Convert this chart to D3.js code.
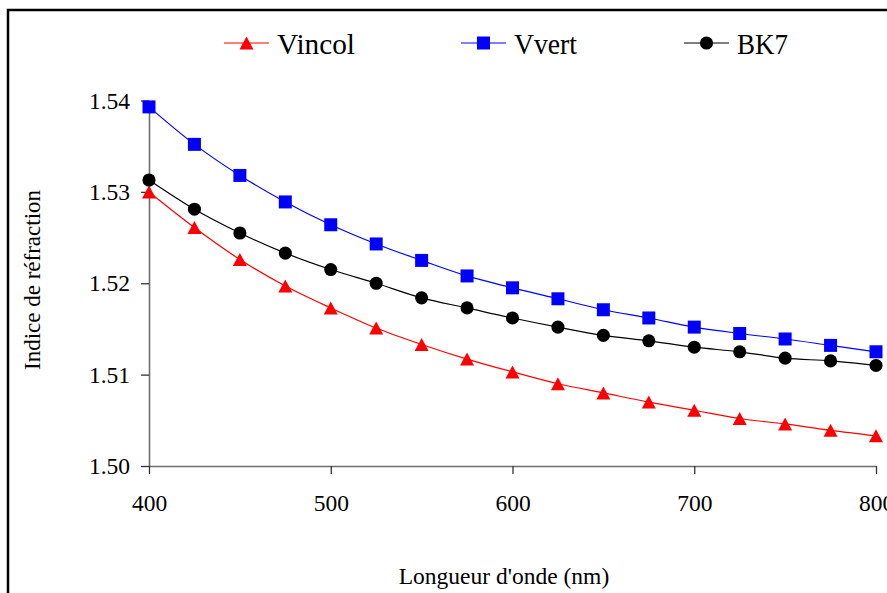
<!DOCTYPE html>
<html>
<head>
<meta charset="utf-8">
<script src="https://cdn.jsdelivr.net/npm/d3@7"></script>
<style>
  body { margin: 0; background: #fff; }
  svg text { font-family: "Liberation Serif", "Times New Roman", serif; fill: #000; }
</style>
</head>
<body>
<div id="chart"></div>
<script>
// Wavelengths (nm)
var wavelengths = [400, 425, 450, 475, 500, 525, 550, 575, 600, 625, 650, 675, 700, 725, 750, 775, 800];

// Refractive index per glass
var vincol = [1.5300, 1.5261, 1.5226, 1.5197, 1.5173, 1.5151, 1.5133, 1.5117, 1.5103, 1.5090, 1.5080, 1.5070, 1.5061, 1.5052, 1.5046, 1.5039, 1.5033];
var vvert = [1.5393, 1.5352, 1.5318, 1.5289, 1.5264, 1.5243, 1.5225, 1.5208, 1.5195, 1.5183, 1.5171, 1.5162, 1.5152, 1.5145, 1.5139, 1.5132, 1.5125];
var bk7 = [1.5313, 1.5281, 1.5255, 1.5233, 1.5215, 1.5200, 1.5184, 1.5173, 1.5162, 1.5152, 1.5143, 1.5137, 1.5130, 1.5125, 1.5118, 1.5115, 1.5110];

// Tick labels
var xTicks = [400, 500, 600, 700, 800];
var yTicks = [1.50, 1.51, 1.52, 1.53, 1.54];

var seriesNames = ["Vincol", "Vvert", "BK7"];

var width = 887;
var height = 593;
var serif = "'Liberation Serif', 'Times New Roman', serif";

var svg = d3.select("#chart")
    .append("svg")
    .attr("width", width)
    .attr("height", height);

// outer frame (cut off on the right and bottom like the original)
svg.append("rect")
    .attr("x", 8)
    .attr("y", 10)
    .attr("width", 950)
    .attr("height", 650)
    .attr("fill", "none")
    .attr("stroke", "#000")
    .attr("stroke-width", 2.5);

var x = d3.scaleLinear().domain([400, 800]).range([149, 876]);
var y = d3.scaleLinear().domain([1.50, 1.54]).range([466, 100.5]);

var series = [
    { name: seriesNames[0], values: vincol, color: "#ff0000", shape: "triangle" },
    { name: seriesNames[1], values: vvert, color: "#0000ff", shape: "square" },
    { name: seriesNames[2], values: bk7, color: "#000000", shape: "circle" }
];

// Marker shapes centred on the point
function markerPath(shape) {
    if (shape === "triangle") return "M0,-6.5L7,6.5L-7,6.5Z";
    if (shape === "square") return "M-6.5,-6.5H6.5V6.5H-6.5Z";
    return d3.symbol().type(d3.symbolCircle).size(135)();
}

// Axes
var yAxis = svg.append("g")
    .attr("transform", "translate(149,0)")
    .call(d3.axisLeft(y).tickValues(yTicks).tickFormat(d3.format(".2f"))
        .tickSize(8).tickSizeOuter(0).tickPadding(11));

var xAxis = svg.append("g")
    .attr("transform", "translate(0,466)")
    .call(d3.axisBottom(x).tickValues(xTicks).tickFormat(d3.format("d"))
        .tickSize(8).tickSizeOuter(0).tickPadding(20));

[yAxis, xAxis].forEach(function(ax) {
    ax.attr("font-family", null).attr("font-size", null);
    ax.selectAll("text")
        .style("font-family", serif)
        .style("font-size", "23.5px")
        .attr("fill", "#000");
    ax.select(".domain").attr("stroke", "#6e6e6e").attr("stroke-width", 1.6);
    ax.selectAll(".tick line").attr("stroke", "#333").attr("stroke-width", 1.3);
});

// Lines and markers
var line = d3.line()
    .x(function(d, i) { return x(wavelengths[i]); })
    .y(function(d) { return y(d); })
    .curve(d3.curveMonotoneX);

series.forEach(function(s) {
    svg.append("path")
        .attr("d", line(s.values))
        .attr("fill", "none")
        .attr("stroke", s.color)
        .attr("stroke-width", 1.2);

    svg.append("g").selectAll("path")
        .data(s.values)
        .enter()
        .append("path")
        .attr("transform", function(d, i) { return "translate(" + x(wavelengths[i]) + "," + y(d) + ")"; })
        .attr("d", markerPath(s.shape))
        .attr("fill", s.color);
});

// Legend
var legendX = [224, 461, 684];
var legendW = [78, 63, 51];
series.forEach(function(s, i) {
    var g = svg.append("g").attr("transform", "translate(" + legendX[i] + ",43)");
    g.append("line")
        .attr("x1", 0).attr("x2", 45)
        .attr("y1", 0).attr("y2", 0)
        .attr("stroke", s.color)
        .attr("stroke-width", 1.2);
    g.append("path")
        .attr("transform", "translate(22.5,0)")
        .attr("d", markerPath(s.shape))
        .attr("fill", s.color);
    g.append("text")
        .attr("x", 53)
        .attr("y", 10.5)
        .attr("textLength", legendW[i])
        .attr("lengthAdjust", "spacingAndGlyphs")
        .style("font-family", serif)
        .style("font-size", "30px")
        .text(s.name);
});

// Axis titles
svg.append("text")
    .attr("x", 504)
    .attr("y", 584)
    .attr("text-anchor", "middle")
    .style("font-family", serif)
    .style("font-size", "23.5px")
    .text("Longueur d'onde (nm)");

svg.append("text")
    .attr("transform", "translate(40,280) rotate(-90)")
    .attr("text-anchor", "middle")
    .style("font-family", serif)
    .style("font-size", "23px")
    .text("Indice de réfraction");
</script>
</body>
</html>
